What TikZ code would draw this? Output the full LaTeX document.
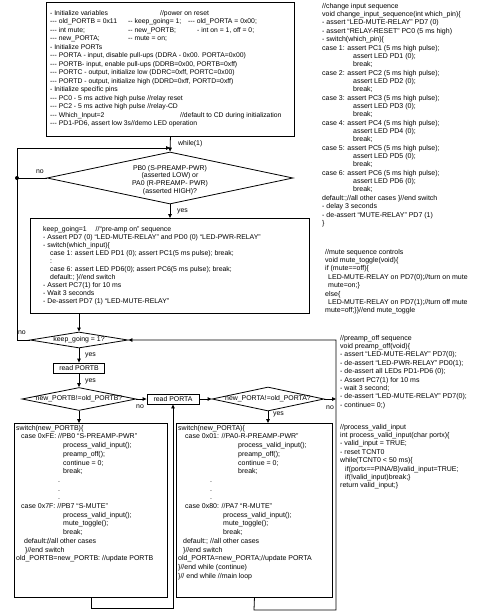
\documentclass[tikz,border=0pt]{standalone}
\usepackage{fontspec}
\setmainfont{Liberation Sans}
\usetikzlibrary{arrows.meta, positioning, shapes.geometric}

\begin{document}
\begin{tikzpicture}[x=1pt, y=-1pt,
  every node/.style={font=\fontsize{6.9}{8.4}\selectfont},
  codebox/.style={draw, line width=0.9pt, anchor=north west, inner sep=0pt},
  code/.style={align=left, anchor=north west, inner sep=0pt},
  dia/.style={draw, diamond, line width=0.8pt, inner sep=0pt},
  smallbox/.style={draw, line width=0.8pt, inner sep=0pt, minimum height=10pt},
  lbl/.style={inner sep=1pt},
  arr/.style={line width=0.8pt, -{Triangle[length=4pt, width=3.5pt]}},
  line/.style={line width=0.8pt}]

\useasboundingbox (0,0) rectangle (490,613);

% power on reset
\node[codebox, minimum width=248pt, minimum height=134pt] (init) at (46,2) {};
\node[code, font=\fontsize{6.8}{8.5}\selectfont] (initTxt) at (50,10) {%
\makebox[110pt][l]{- Initialize variables}//power on reset\\
\makebox[78pt][l]{-{}-{}- old\_PORTB = 0x11}\makebox[60pt][l]{-{}- keep\_going= 1;}-{}-{}- old\_PORTA = 0x00;\\
\makebox[78pt][l]{-{}-{}- int mute;}\makebox[69pt][l]{-{}- new\_PORTB;}- int on = 1, off = 0;\\
\makebox[78pt][l]{-{}-{}- new\_PORTA;}-{}- mute = on;\\
- Initialize PORTs\\
-{}-{}- PORTA - input, disable pull-ups (DDRA - 0x00. PORTA=0x00)\\
-{}-{}- PORTB- input, enable pull-ups (DDRB=0x00, PORTB=0xff)\\
-{}-{}- PORTC - output, initialize low (DDRC=0xff, PORTC=0x00)\\
-{}-{}- PORTD - output, initialize high (DDRD=0xff, PORTD=0xff)\\
- Initialize specific pins\\
-{}-{}- PC0 - 5 ms active high pulse //relay reset\\
-{}-{}- PC2 - 5 ms active high pulse //relay-CD\\
\makebox[130pt][l]{-{}-{}- Which\_Input=2}//default to CD during initialization\\
-{}-{}- PD1-PD6, assert low 3s//demo LED operation};

% main loop
\node[dia, minimum width=246pt, minimum height=52pt] (pwr) at (170,178) {};
\node[align=center, inner sep=0pt, font=\fontsize{6.9}{7.6}\selectfont] (pwrTxt) at (170,180)
  {PB0 (S-PREAMP-PWR)\\(asserted LOW) or\\PA0 (R-PREAMP- PWR)\\(asserted HIGH)?};
\coordinate (loopTop) at (17,148);
\coordinate (join) at (170,148);
\draw[arr] (init.south) -- (pwr.north);
\node[lbl, anchor=west] (whileLbl) at (177,144) {while(1)};
\draw[line] (pwr.west) -- (pwr.west -| loopTop);
\fill (pwr.west -| loopTop) circle (2pt);
\node[lbl] (noPwr) at (40,172) {no};

\node[codebox, minimum width=279pt, minimum height=95pt] (pre) at (30,218) {};
\node[code, font=\fontsize{6.9}{8}\selectfont] (preTxt) at (43,226) {%
keep\_going=1\hspace{9pt}//``pre-amp on'' sequence\\
- Assert PD7 (0) ``LED-MUTE-RELAY'' and PD0 (0) ``LED-PWR-RELAY''\\
- switch(which\_input)\{\\
\hspace*{7pt}case 1: assert LED PD1 (0); assert PC1(5 ms pulse); break;\\
\hspace*{7pt}:\\
\hspace*{7pt}case 6: assert LED PD6(0); assert PC6(5 ms pulse); break;\\
\hspace*{7pt}default:; \}//end switch\\
- Assert PC7(1) for 10 ms\\
- Wait 3 seconds\\
- De-assert PD7 (1) ``LED-MUTE-RELAY''};
\draw[arr] (pwr.south) -- (pwr.south |- pre.north);
\node[lbl, anchor=west] (yesPwr) at (176,211) {yes};

\node[dia, minimum width=98pt, minimum height=16pt] (kg) at (79,340) {};
\node[inner sep=0pt] (kgTxt) at (79,340) {keep\_going = 1?};
\draw[arr] (kg.north |- pre.south) -- (kg.north);
\draw[arr] (kg.west) -- (kg.west -| loopTop) -- (loopTop) -- (join);
\node[lbl] (noKg) at (22,333) {no};

% PORTB / PORTA checks
\node[smallbox, minimum width=51pt] (rdB) at (79,368) {read PORTB};
\draw[arr] (kg.south) -- (rdB.north);
\node[lbl, anchor=west] (yesKg) at (84,355) {yes};
\node[dia, minimum width=114pt, minimum height=23pt] (chgB) at (79,399) {};
\node[inner sep=0pt] (chgBTxt) at (79,399) {new\_PORTB!=old\_PORTB?};
\draw[arr] (rdB.south) -- (chgB.north);
\node[lbl, anchor=west] (yesRdB) at (84,381) {yes};

\node[smallbox, minimum width=52pt] (rdA) at (173,399) {read PORTA};
\draw[arr] (chgB.east) -- (rdA.west);
\node[lbl] (noChgB) at (140,407) {no};
\node[dia, minimum width=112pt, minimum height=24pt] (chgA) at (268,399) {};
\node[inner sep=0pt] (chgATxt) at (268,399) {new\_PORTA!=old\_PORTA?};
\draw[arr] (rdA.east) -- (chgA.west);
\coordinate (backR) at (336,399);
\draw[arr] (chgA.east) -- (backR);
\node[lbl] (noChgA) at (330,408) {no};
\node[lbl, anchor=west] (yesChgA) at (272,414) {yes};

% switch boxes
\node[codebox, minimum width=153pt, minimum height=174pt] (swB) at (14,423) {};
\node[code, font=\fontsize{7}{8.7}\selectfont] (swBTxt) at (16,425) {%
switch(new\_PORTB)\{\\
\hspace*{5pt}case 0xFE: //PB0 ``S-PREAMP-PWR''\\
\hspace*{47pt}process\_valid\_input();\\
\hspace*{47pt}preamp\_off();\\
\hspace*{47pt}continue = 0;\\
\hspace*{47pt}break;\\
\hspace*{42pt}.\\
\hspace*{42pt}.\\
\hspace*{42pt}.\\
\hspace*{5pt}case 0x7F: //PB7 ``S-MUTE''\\
\hspace*{47pt}process\_valid\_input();\\
\hspace*{47pt}mute\_toggle();\\
\hspace*{47pt}break;\\
\hspace*{8pt}\makebox[23pt][l]{default:;}//all other cases\\
\hspace*{9pt}\}//end switch\\
old\_PORTB=new\_PORTB: //update PORTB};
\draw[arr] (chgB.south) -- (chgB.south |- swB.north);

\node[codebox, minimum width=156pt, minimum height=174pt] (swA) at (176,423) {};
\node[code, font=\fontsize{7}{8.7}\selectfont] (swATxt) at (178,425) {%
switch(new\_PORTA)\{\\
\hspace*{7pt}case 0x01: //PA0-R-PREAMP-PWR''\\
\hspace*{60pt}process\_valid\_input();\\
\hspace*{60pt}preamp\_off();\\
\hspace*{60pt}continue = 0;\\
\hspace*{60pt}break;\\
\hspace*{32pt}.\\
\hspace*{32pt}.\\
\hspace*{32pt}.\\
\hspace*{7pt}case 0x80: //PA7 ``R-MUTE''\\
\hspace*{45pt}process\_valid\_input();\\
\hspace*{45pt}mute\_toggle();\\
\hspace*{45pt}break;\\
\hspace*{5pt}\makebox[27pt][l]{default:;}//all other cases\\
\hspace*{5pt}\}//end switch\\
old\_PORTA=new\_PORTA;//update PORTA\\
\}//end while (continue)\\
\}// end while //main loop};
\draw[arr] (chgA.south) -- (chgA.south |- swA.north);

\coordinate (botB) at (91,608);
\coordinate (botA) at (254,610);
\draw[arr] (swB.south) -- (swB.south |- botB) -| (rdA.south);
\draw[arr] (swA.south) -- (botA) -| (backR) |- (kg.east);

% subroutines
\node[code, font=\fontsize{7}{8.35}\selectfont] (chgSeq) at (322,3) {%
//change input sequence\\
void change\_input\_sequence(int which\_pin)\{\\
- assert ``LED-MUTE-RELAY'' PD7 (0)\\
- assert ``RELAY-RESET'' PC0 (5 ms high)\\
- switch(which\_pin)\{\\
case 1: assert PC1 (5 ms high pulse);\\
\hspace*{31pt}assert LED PD1 (0);\\
\hspace*{31pt}break;\\
case 2: assert PC2 (5 ms high pulse);\\
\hspace*{31pt}assert LED PD2 (0);\\
\hspace*{31pt}break;\\
case 3: assert PC3 (5 ms high pulse);\\
\hspace*{31pt}assert LED PD3 (0);\\
\hspace*{31pt}break;\\
case 4: assert PC4 (5 ms high pulse);\\
\hspace*{31pt}assert LED PD4 (0);\\
\hspace*{31pt}break;\\
case 5: assert PC5 (5 ms high pulse);\\
\hspace*{31pt}assert LED PD5 (0);\\
\hspace*{31pt}break;\\
case 6: assert PC6 (5 ms high pulse);\\
\hspace*{31pt}assert LED PD6 (0);\\
\hspace*{31pt}break;\\
default:;//all other cases \}//end switch\\
- delay 3 seconds\\
- de-assert ``MUTE-RELAY'' PD7 (1)\\
\}};

\node[code, font=\fontsize{7}{8.35}\selectfont] (muteSeq) at (325,249) {%
//mute sequence controls\\
void mute\_toggle(void)\{\\
if (mute==off)\{\\
\hspace*{3pt}LED-MUTE-RELAY on PD7(0);//turn on mute\\
\hspace*{3pt}mute=on;\}\\
else\{\\
\hspace*{3pt}LED-MUTE-RELAY on PD7(1);//turn off mute\\
mute=off;\}\}//end mute\_toggle};

\node[code, font=\fontsize{7}{8.35}\selectfont] (offSeq) at (340,335) {%
//preamp\_off sequence\\
void preamp\_off(void)\{\\
- assert ``LED-MUTE-RELAY'' PD7(0);\\
- de-assert ``LED-PWR-RELAY'' PD0(1);\\
- de-assert all LEDs PD1-PD6 (0);\\
- Assert PC7(1) for 10 ms\\
- wait 3 second;\\
- de-assert ``LED-MUTE-RELAY'' PD7(0);\\
- continue= 0;)};

\node[code, font=\fontsize{7}{8.35}\selectfont] (validSeq) at (340,424) {%
//process\_valid\_input\\
int process\_valid\_input(char portx)\{\\
- valid\_input = TRUE;\\
- reset TCNT0\\
while(TCNT0 < 50 ms)\{\\
\hspace*{5pt}if(portx==PINA/B)valid\_input=TRUE;\\
\hspace*{5pt}if(!valid\_input)break;\}\\
return valid\_input;\}};
\end{tikzpicture}
\end{document}
